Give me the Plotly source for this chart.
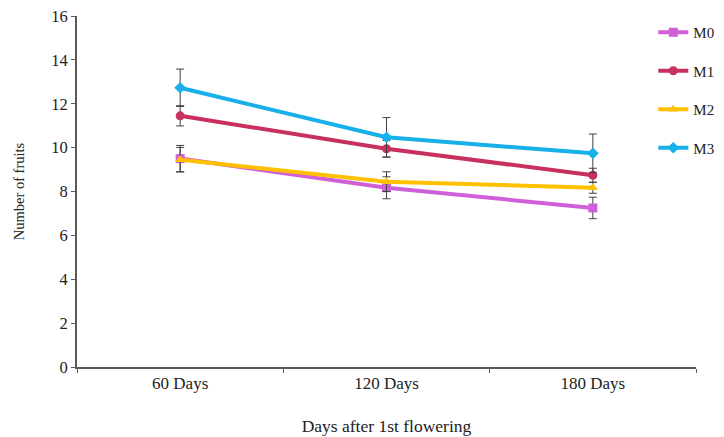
import plotly.graph_objects as go

categories = ["60 Days", "120 Days", "180 Days"]
series_names = ["M0", "M1", "M2", "M3"]
m0 = [9.50, 8.17, 7.25]
m1 = [11.45, 9.95, 8.74]
m2 = [9.45, 8.45, 8.17]
m3 = [12.73, 10.47, 9.74]
m0_err = [0.60, 0.50, 0.49]
m1_err = [0.46, 0.38, 0.32]
m2_err = [0.56, 0.45, 0.25]
m3_err = [0.85, 0.90, 0.88]
y_ticks = [0, 2, 4, 6, 8, 10, 12, 14, 16]

values = [m0, m1, m2, m3]
errors = [m0_err, m1_err, m2_err, m3_err]
colors = ["#D060D8", "#C8305E", "#FFC000", "#18B0E8"]
symbols = ["square", "circle", "triangle-up", "diamond"]

FONT = "Liberation Serif, Times New Roman, serif"

fig = go.Figure()
for name, v, e, c, s in zip(series_names, values, errors, colors, symbols):
    fig.add_trace(go.Scatter(
        x=categories, y=v, name=name, mode="lines+markers",
        line=dict(color=c, width=4),
        marker=dict(symbol=s, size=9, color=c),
        error_y=dict(type="data", array=e, visible=True,
                     color="#404040", thickness=1, width=4),
        legendgroup=name,
    ))

# the page body adds an 8px offset; margins compensate for it
fig.update_layout(
    width=740, height=437,
    margin=dict(l=69, r=52, t=8, b=78),
    plot_bgcolor="white", paper_bgcolor="white",
    font=dict(family=FONT, size=16, color="#222222"),
    showlegend=True,
    legend=dict(x=0.931, y=1.0, xanchor="left", yanchor="top",
                bgcolor="rgba(0,0,0,0)", tracegroupgap=16,
                font=dict(family=FONT, size=15, color="#222222")),
    xaxis=dict(
        title=dict(text="Days after 1st flowering", font=dict(size=17.5), standoff=27),
        range=[-0.5, 2.5], tickson="boundaries", ticks="outside", ticklen=4,
        tickcolor="#595959", showline=True, linecolor="#595959", linewidth=2,
        showgrid=False, zeroline=False, tickfont=dict(size=17), automargin=False,
    ),
    yaxis=dict(
        title=dict(text="Number of fruits", font=dict(size=14.5), standoff=23),
        range=[0, 16], tickvals=y_ticks, ticks="outside", ticklen=4,
        tickcolor="#595959", showline=True, linecolor="#595959", linewidth=2,
        showgrid=False, zeroline=False, tickfont=dict(size=16.5), automargin=False,
        ticklabeloverflow="allow",
    ),
)

fig.write_html("out.html")
